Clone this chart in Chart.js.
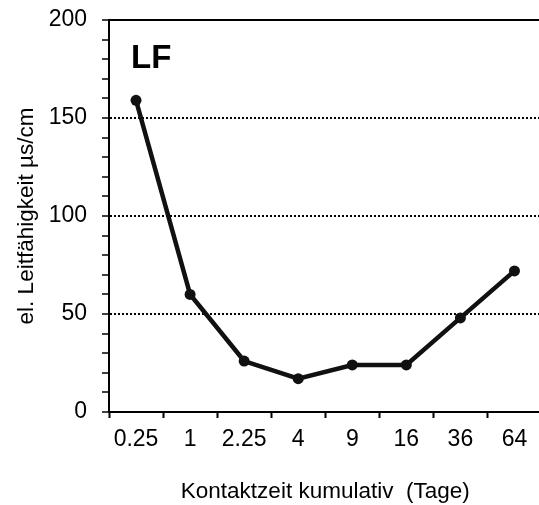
<!DOCTYPE html>
<html><head><meta charset="utf-8">
<script src="https://cdn.jsdelivr.net/npm/chart.js@4"></script>
<style>html,body{margin:0;padding:0;overflow:hidden;background:#fff}#wrap{width:547px;height:505px}</style>
</head><body><div id="wrap"><canvas id="c" width="547" height="505"></canvas></div>
<script>
const categories = ['0.25', '1', '2.25', '4', '9', '16', '36', '64'];
const conductivity = [159, 60, 26, 17, 24, 24, 48, 72];
const yLabelValues = [0, 50, 100, 150, 200];
const dottedGridValues = [50, 100, 150];
const panelLabel = 'LF';
const xTitle = 'Kontaktzeit kumulativ  (Tage)';
const yTitle = 'el. Leitfähigkeit µs/cm';

const FONT = "'Liberation Sans', Arial, sans-serif";

const panelLabelPlugin = {
  id: 'panelLabel',
  afterDraw(chart) {
    const {ctx, chartArea} = chart;
    ctx.save();
    ctx.font = "bold 33px " + FONT;
    ctx.fillStyle = '#000';
    ctx.textBaseline = 'alphabetic';
    ctx.textAlign = 'left';
    ctx.fillText(panelLabel, chartArea.left + 22, chartArea.top + 48);
    ctx.restore();
  }
};

new Chart(document.getElementById('c'), {
  type: 'line',
  data: {
    labels: categories,
    datasets: [{
      data: conductivity,
      borderColor: '#111',
      backgroundColor: '#111',
      borderWidth: 4.5,
      pointRadius: 5.5,
      pointBackgroundColor: '#111',
      pointBorderWidth: 0,
      tension: 0,
      fill: false
    }]
  },
  options: {
    responsive: false,
    animation: false,
    devicePixelRatio: 1,
    layout: { padding: { top: 20, right: 0, bottom: 0, left: 0 } },
    plugins: { legend: { display: false }, tooltip: { enabled: false } },
    scales: {
      x: {
        type: 'category',
        offset: true,
        grid: { offset: true, drawOnChartArea: false, drawTicks: true, tickLength: 6, tickColor: '#000', tickWidth: 2 },
        border: { display: true, color: '#000', width: 2 },
        ticks: { color: '#000', font: { family: FONT, size: 23 }, padding: 8, maxRotation: 0, autoSkip: false },
        title: { display: true, text: xTitle, color: '#000', font: { family: FONT, size: 22.5 }, padding: { top: 0, bottom: 0 } },
        afterFit(scale) { scale.height = 505 - 412; scale.paddingLeft = 0; scale.paddingRight = 0; }
      },
      y: {
        min: 0, max: 200,
        grid: {
          drawTicks: true, tickLength: 7, tickColor: '#000', tickWidth: 1.5,
          color: ctx => (ctx.tick && (dottedGridValues.includes(ctx.tick.value) || ctx.tick.value === 200)) ? '#000' : 'rgba(0,0,0,0)',
          lineWidth: 2
        },
        border: {
          display: true, color: '#000', width: 2,
          dash: ctx => (ctx.tick && dottedGridValues.includes(ctx.tick.value)) ? [2, 2] : []
        },
        ticks: {
          stepSize: 10,
          color: '#000',
          font: { family: FONT, size: 23 },
          padding: 15,
          autoSkip: false,
          callback: v => yLabelValues.includes(v) ? String(v) : ''
        },
        title: { display: true, text: yTitle, color: '#000', font: { family: FONT, size: 22.5 }, padding: { top: 13, bottom: 0 } },
        afterFit(scale) { scale.width = 109; scale.paddingTop = 0; scale.paddingBottom = 0; }
      }
    }
  },
  plugins: [panelLabelPlugin]
});
</script>
</body></html>
